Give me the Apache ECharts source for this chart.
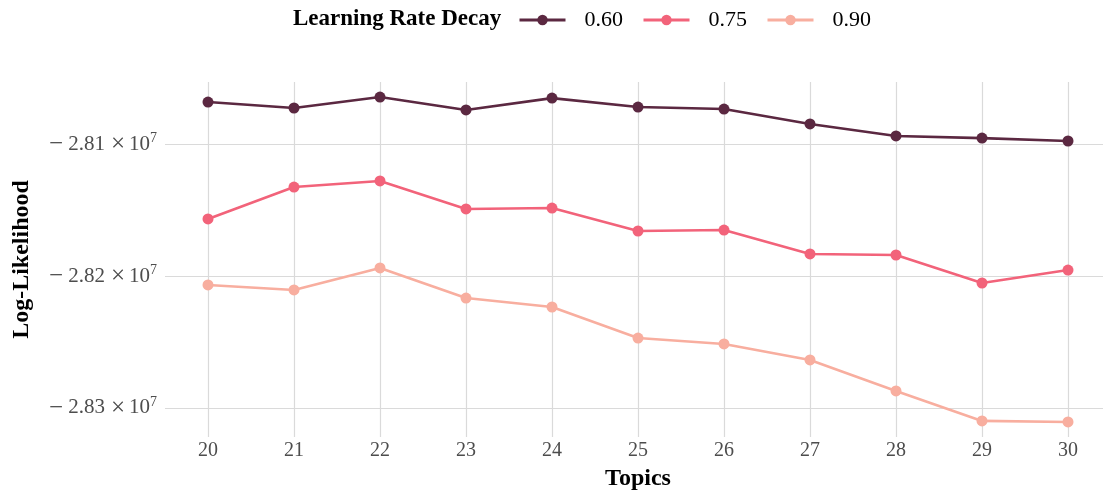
<!DOCTYPE html>
<html>
<head>
<meta charset="utf-8">
<script src="https://cdn.jsdelivr.net/npm/echarts@6/dist/echarts.min.js"></script>
<style>
  html, body { margin: 0; padding: 0; background: #fff; }
  #chart { width: 1103px; height: 492px; }
</style>
</head>
<body>
<div id="chart"></div>
<script>
// topics on the x axis
const topics = [20, 21, 22, 23, 24, 25, 26, 27, 28, 29, 30];
// log-likelihood per learning rate decay
const decay060 = [-28068200, -28072700, -28064400, -28074200, -28065200, -28072000, -28073500, -28084800, -28093900, -28095500, -28097700];
const decay075 = [-28156800, -28132600, -28128000, -28149200, -28148500, -28165900, -28165200, -28183300, -28184100, -28205300, -28195500];
const decay090 = [-28206800, -28210600, -28193900, -28216700, -28223500, -28247000, -28251500, -28263600, -28287100, -28309800, -28310600];
const seriesNames = ['0.60', '0.75', '0.90'];
const yTicks = [-28300000, -28200000, -28100000];

const colors = ['#5b2841', '#f2637a', '#f8ae9f'];
const serif = '"Liberation Serif", "DejaVu Serif", serif';

function pairs(vals) {
  return vals.map((v, i) => [topics[i], v]);
}

const chart = echarts.init(document.getElementById('chart'));

const labelColor = '#4d4d4d';

const option = {
  animation: false,
  title: {
    text: 'Learning Rate Decay',
    left: 288,
    top: 3,
    textStyle: { fontFamily: serif, fontWeight: 'bold', fontSize: 23, color: '#000' }
  },
  legend: {
    left: 513,
    top: 4,
    itemWidth: 46,
    itemHeight: 13,
    itemGap: 19,
    lineStyle: { width: 3 },
    textStyle: { fontFamily: serif, fontSize: 22, color: '#000', padding: [0, 0, 0, 14] },
    data: seriesNames
  },
  grid: { left: 165, right: -8, top: 82, bottom: 55, outerBoundsMode: 'none', containLabel: false },
  xAxis: {
    type: 'value',
    min: 19.5,
    max: 30.5,
    name: 'Topics',
    nameLocation: 'middle',
    nameGap: 30,
    nameTextStyle: { fontFamily: serif, fontWeight: 'bold', fontSize: 24, color: '#000' },
    axisLine: { show: false },
    axisTick: { show: false, customValues: topics },
    axisLabel: {
      customValues: topics,
      margin: 4,
      fontFamily: serif, fontSize: 20, color: labelColor
    },
    splitLine: { show: true, lineStyle: { color: '#dadada', width: 1.2 } }
  },
  yAxis: {
    type: 'value',
    min: -28322000,
    max: -28053000,
    name: 'Log-Likelihood',
    nameLocation: 'middle',
    nameGap: 131,
    nameRotate: 90,
    nameTextStyle: { fontFamily: serif, fontWeight: 'bold', fontSize: 24, color: '#000' },
    axisLine: { show: false },
    axisTick: { show: false, customValues: yTicks },
    axisLabel: {
      customValues: yTicks,
      margin: 8,
      formatter: function (v) {
        return '{m|\u2212}{a|' + (-v / 1e7).toFixed(2) + '}{x|\u00d7}{a|10}{b|7}';
      },
      rich: {
        m: { fontFamily: serif, fontSize: 25, color: labelColor, padding: [0, 5, 0, 0] },
        a: { fontFamily: serif, fontSize: 21, color: labelColor },
        x: { fontFamily: serif, fontSize: 25, color: labelColor, padding: [0, 4, 0, 6] },
        b: { fontFamily: serif, fontSize: 14, color: labelColor, padding: [0, 0, 11, 0] }
      }
    },
    splitLine: { show: true, lineStyle: { color: '#dadada', width: 1.2 } }
  },
  series: [decay060, decay075, decay090].map((vals, i) => ({
    name: seriesNames[i],
    type: 'line',
    data: pairs(vals),
    symbol: 'circle',
    symbolSize: 11,
    color: colors[i],
    lineStyle: { width: 2.6, color: colors[i] },
    itemStyle: { color: colors[i] },
    z: 3 - i
  }))
};

chart.setOption(option);
</script>
</body>
</html>
